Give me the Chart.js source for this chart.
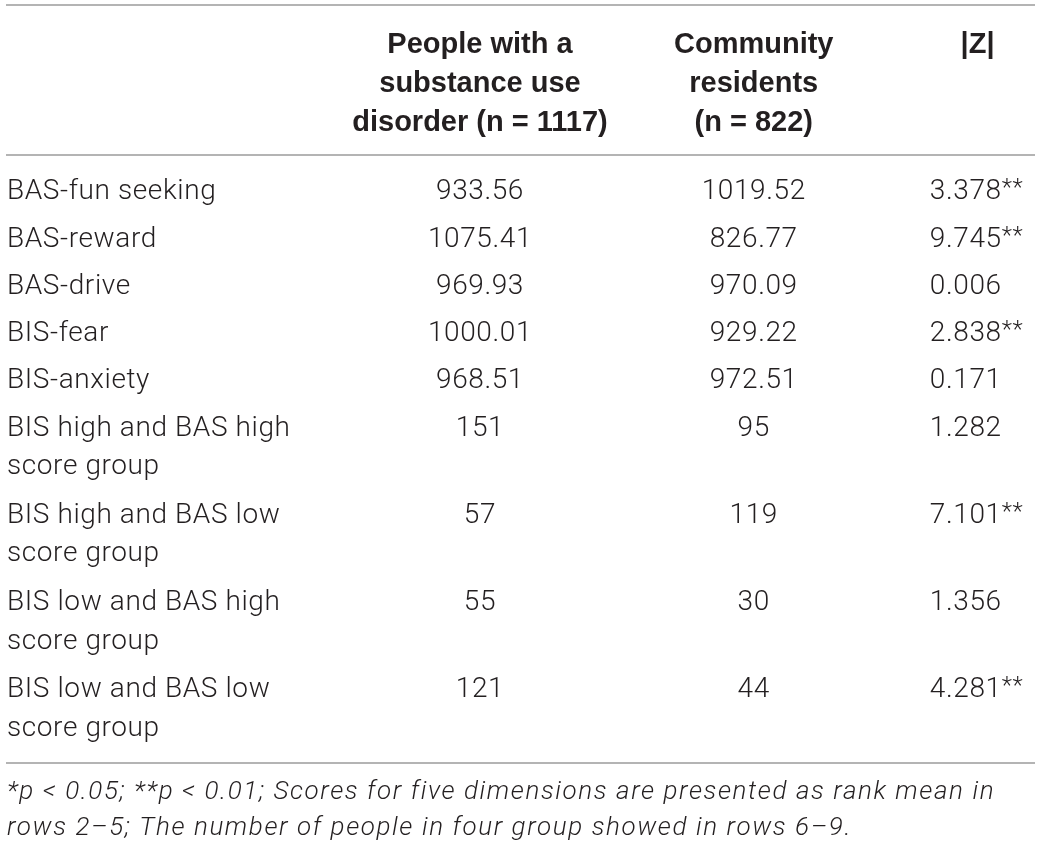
<!DOCTYPE html>
<html>
<head>
<meta charset="utf-8">
<script src="https://cdn.jsdelivr.net/npm/chart.js@4.4.1/dist/chart.umd.min.js"></script>
<style>
  html, body { margin: 0; padding: 0; background: #fff; }
</style>
</head>
<body>
<canvas id="tbl" width="1040" height="849"></canvas>
<script>
"use strict";
// table content
const columnHeaders = [
  ["People with a", "substance use", "disorder (n = 1117)"],
  ["Community", "residents", "(n = 822)"],
  ["|Z|"]
];
const rowLabels = [
  ["BAS-fun seeking"],
  ["BAS-reward"],
  ["BAS-drive"],
  ["BIS-fear"],
  ["BIS-anxiety"],
  ["BIS high and BAS high", "score group"],
  ["BIS high and BAS low", "score group"],
  ["BIS low and BAS high", "score group"],
  ["BIS low and BAS low", "score group"]
];
const sudValues = [933.56, 1075.41, 969.93, 1000.01, 968.51, 151, 57, 55, 121];
const communityValues = [1019.52, 826.77, 970.09, 929.22, 972.51, 95, 119, 30, 44];
const zValues = [3.378, 9.745, 0.006, 2.838, 0.171, 1.282, 7.101, 1.356, 4.281];
const zSignif = ["**", "**", "", "**", "", "", "**", "", "**"];
const footnote = [
  "*p < 0.05; **p < 0.01; Scores for five dimensions are presented as rank mean in",
  "rows 2\u20135; The number of people in four group showed in rows 6\u20139."
];

// layout / style
const INK = "#231f20";
const RULE = "#9b9b9b";
const BODY_FAMILY = "Roboto, 'Liberation Sans', sans-serif";
const HEAD_FAMILY = "'Liberation Sans', Arial, sans-serif";
const BODY_SIZE = 28;
const BODY_SPACING = "0.6px";
const FOOT_SPACING = "1.6px";
const LINE_H = 39.9, ROW_PAD = 7.4, SUB_LINE = 38.5;
const BODY_TOP = 37.2, BODY_BOTTOM = 72.7;
const LABEL_W = 333;
const COL_POS = [20.2, 59.7, 90.3];   // % of value area
const HEAD_POS = [20.2, 59.7, 92.0];

const valueColumns = [sudValues, communityValues, zValues];

const rowY = [];
let acc = 0;
rowLabels.forEach(lines => { rowY.push(acc); acc += lines.length * LINE_H + ROW_PAD; });
const lineTicks = [], lineTexts = [];
rowLabels.forEach((lines, i) => lines.forEach((t, k) => {
  lineTicks.push(rowY[i] + k * SUB_LINE);
  lineTexts.push(t);
}));
const yMax = rowY[rowY.length - 1] + BODY_BOTTOM;

function cellText(c, i) {
  const v = valueColumns[c][i];
  if (c === 2) return v.toFixed(3);
  return Number.isInteger(v) ? String(v) : v.toFixed(2);
}

const cellPlugin = {
  id: "cells",
  afterDatasetsDraw(chart) {
    const ctx = chart.ctx;
    ctx.save();
    ctx.fillStyle = INK;
    ctx.textBaseline = "middle";
    ctx.letterSpacing = BODY_SPACING;
    chart.data.datasets.forEach((ds, c) => {
      chart.getDatasetMeta(c).data.forEach((pt, i) => {
        const txt = cellText(c, i);
        ctx.font = "300 " + BODY_SIZE + "px " + BODY_FAMILY;
        ctx.textAlign = "center";
        ctx.fillText(txt, pt.x, pt.y);
        if (c === 2 && zSignif[i]) {
          const w = ctx.measureText(txt).width;
          ctx.font = "300 24px " + BODY_FAMILY;
          ctx.textAlign = "left";
          ctx.fillText(zSignif[i], pt.x + w / 2, pt.y - 3);
        }
      });
    });
    ctx.restore();
  }
};

// wrap a draw method so its text gets extra letter spacing
function spaced(chart, obj, method, spacing) {
  if (!obj || obj["_sp_" + method]) return;
  const orig = obj[method].bind(obj);
  obj[method] = area => {
    chart.ctx.save();
    chart.ctx.letterSpacing = spacing;
    orig(area);
    chart.ctx.restore();
  };
  obj["_sp_" + method] = true;
}

const rulesPlugin = {
  id: "rules",
  afterLayout(chart) {
    spaced(chart, chart.titleBlock, "draw", FOOT_SPACING);
    spaced(chart, chart.scales.y, "drawLabels", BODY_SPACING);
  },
  afterDraw(chart) {
    const ctx = chart.ctx, a = chart.chartArea;
    ctx.save();
    ctx.strokeStyle = RULE;
    ctx.lineWidth = 1.5;
    [chart.scales.x.top, a.top, a.bottom].forEach(y => {
      ctx.beginPath();
      ctx.moveTo(6, y);
      ctx.lineTo(chart.width - 5, y);
      ctx.stroke();
    });
    ctx.restore();
  }
};

new Chart(document.getElementById("tbl"), {
  type: "scatter",
  data: {
    datasets: valueColumns.map((vals, c) => ({
      data: vals.map((v, i) => ({ x: COL_POS[c], y: rowY[i] })),
      pointRadius: 0,
      pointHoverRadius: 0
    }))
  },
  options: {
    responsive: false,
    animation: false,
    events: [],
    layout: { padding: { top: 5, left: 7, right: 7, bottom: 0 } },
    plugins: {
      legend: { display: false },
      tooltip: { enabled: false },
      title: {
        display: true,
        position: "bottom",
        align: "start",
        text: footnote,
        color: INK,
        font: { family: BODY_FAMILY, size: 26, style: "italic", weight: 300, lineHeight: "36px" },
        padding: { top: 11, bottom: 3 }
      }
    },
    scales: {
      x: {
        type: "linear",
        position: "top",
        min: 0,
        max: 100,
        grid: { display: false, drawTicks: false },
        border: { display: false },
        afterBuildTicks: s => { s.ticks = HEAD_POS.map(v => ({ value: v })); },
        afterFit: s => { s.height = 150; },
        ticks: {
          autoSkip: false,
          maxRotation: 0,
          minRotation: 0,
          padding: 13,
          crossAlign: "far",
          color: INK,
          font: { family: HEAD_FAMILY, size: 29, weight: "bold", lineHeight: "39px" },
          callback: (v, i) => columnHeaders[i]
        }
      },
      y: {
        type: "linear",
        reverse: true,
        min: -BODY_TOP,
        max: yMax,
        grid: { display: false, drawTicks: false },
        border: { display: false },
        afterBuildTicks: s => { s.ticks = lineTicks.map(v => ({ value: v })); },
        afterFit: s => { s.width = LABEL_W; },
        ticks: {
          autoSkip: false,
          padding: 0,
          crossAlign: "far",
          color: INK,
          font: { family: BODY_FAMILY, size: BODY_SIZE, weight: 300, lineHeight: 1.2 },
          callback: (v, i) => lineTexts[i]
        }
      }
    }
  },
  plugins: [cellPlugin, rulesPlugin]
});
</script>
</body>
</html>
